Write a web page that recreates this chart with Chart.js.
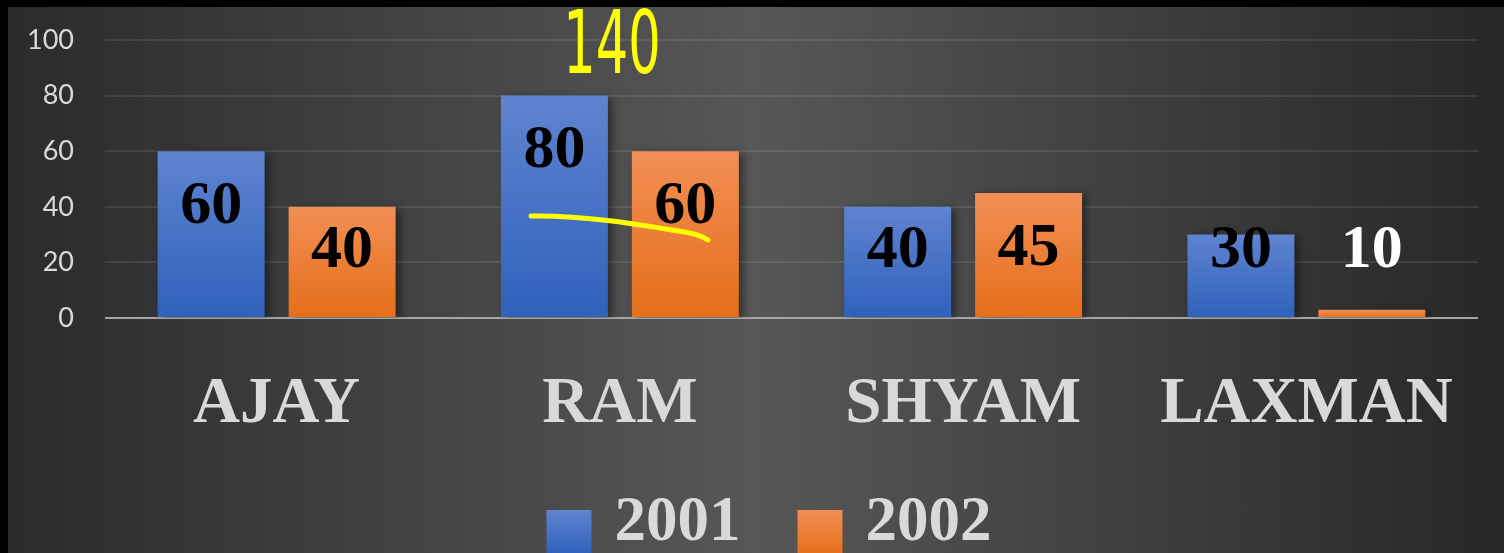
<!DOCTYPE html>
<html><head><meta charset="utf-8">
<script src="https://cdn.jsdelivr.net/npm/chart.js@4/dist/chart.umd.min.js"></script>
<style>
html,body{margin:0;padding:0;background:#000;width:1504px;height:553px;overflow:hidden}
#wrap{position:absolute;left:8px;top:7px;width:1496px;height:546px;background:linear-gradient(90deg,#2b2b2b 0%,#575757 50%,#272727 100%)}
canvas{display:block}
</style></head><body>
<div id="wrap"><canvas id="c" width="1496" height="546"></canvas></div>
<script>
const categories = ['AJAY', 'RAM', 'SHYAM', 'LAXMAN'];
const seriesNames = ['2001', '2002'];
const values2001 = [60, 80, 40, 30];
const values2002 = [40, 60, 45, 3];
const labels2001 = ['60', '80', '40', '30'];
const labels2002 = ['40', '60', '45', '10'];
const yTicks = [0, 20, 40, 60, 80, 100];

const gradTop = ['#5f84d0', '#f28f55'];
const gradBottom = ['#2f61bb', '#e56e19'];
const valueLabels = [labels2001, labels2002];

function barFill(i) {
  return c => {
    const chart = c.chart;
    const ys = chart.scales && chart.scales.y;
    if (!chart.chartArea || !ys || c.raw === undefined) return gradBottom[i];
    const top = ys.getPixelForValue(c.raw);
    const base = ys.getPixelForValue(0);
    const g = chart.ctx.createLinearGradient(0, top, 0, base);
    g.addColorStop(0, gradTop[i]);
    g.addColorStop(1, gradBottom[i]);
    return g;
  };
}

const barStyle = {
  id: 'barStyle',
  beforeDatasetsDraw(chart) {
    const ctx = chart.ctx;
    ctx.save();
    ctx.shadowColor = 'rgba(0,0,0,0.45)';
    ctx.shadowBlur = 8;
    ctx.shadowOffsetX = 4;
    ctx.shadowOffsetY = 2;
  },
  afterDatasetsDraw(chart) {
    const ctx = chart.ctx;
    ctx.restore();
    const ys = chart.scales.y;
    ctx.save();
    ctx.font = 'bold 62px "Liberation Serif"';
    ctx.textAlign = 'center';
    ctx.textBaseline = 'middle';
    chart.data.datasets.forEach((ds, i) => {
      chart.getDatasetMeta(i).data.forEach((el, j) => {
        const v = ds.data[j];
        const lv = Math.max(v - 19, 25.2);
        ctx.fillStyle = lv <= v ? '#000000' : '#ffffff';
        ctx.fillText(valueLabels[i][j], el.x, ys.getPixelForValue(lv) + 3);
      });
    });
    ctx.restore();
  },
  afterDraw(chart) {
    const ctx = chart.ctx;
    ctx.save();
    // legend
    ctx.font = 'bold 63px "Liberation Serif"';
    ctx.textBaseline = 'middle';
    ctx.textAlign = 'left';
    const box = 45, gapT = 23, gapI = 57;
    const widths = seriesNames.map(s => ctx.measureText(s).width);
    const total = widths.reduce((a, w) => a + box + gapT + w, 0) + gapI * (seriesNames.length - 1);
    let x = 761 - total / 2;
    seriesNames.forEach((s, i) => {
      const g = ctx.createLinearGradient(0, 503, 0, 548);
      g.addColorStop(0, gradTop[i]);
      g.addColorStop(1, gradBottom[i]);
      ctx.fillStyle = g;
      ctx.fillRect(x, 503, box, box);
      ctx.fillStyle = '#d9d9d9';
      ctx.fillText(s, x + box + gapT, 517);
      x += box + gapT + widths[i] + gapI;
    });
    // handwritten annotations
    ctx.fillStyle = '#ffff00';
    ctx.font = '88px "DejaVu Sans"';
    ctx.textAlign = 'center';
    ctx.textBaseline = 'alphabetic';
    ctx.translate(604, 66);
    ctx.scale(0.58, 1);
    ctx.fillText('140', 0, 0);
    ctx.setTransform(1, 0, 0, 1, 0, 0);
    ctx.strokeStyle = '#ffff00';
    ctx.lineWidth = 5;
    ctx.lineCap = 'round';
    ctx.beginPath();
    ctx.moveTo(523, 209);
    ctx.bezierCurveTo(580, 208, 640, 219, 682, 226);
    ctx.quadraticCurveTo(692, 228, 700, 233);
    ctx.stroke();
    ctx.restore();
  }
};

new Chart(document.getElementById('c'), {
  type: 'bar',
  data: {
    labels: categories,
    datasets: [
      { label: seriesNames[0], data: values2001, backgroundColor: barFill(0) },
      { label: seriesNames[1], data: values2002, backgroundColor: barFill(1) }
    ]
  },
  options: {
    responsive: false,
    animation: false,
    devicePixelRatio: 1,
    barPercentage: 0.817,
    categoryPercentage: 0.763,
    layout: { padding: { top: 33, right: 26, left: 0, bottom: 0 } },
    plugins: { legend: { display: false }, tooltip: { enabled: false } },
    scales: {
      x: {
        grid: { display: false },
        border: { display: false },
        ticks: {
          color: '#d9d9d9',
          font: { family: '"Liberation Serif"', size: 65, weight: 'bold' },
          padding: 40,
          maxRotation: 0,
          autoSkip: false
        },
        afterFit(s) { s.height = 235; }
      },
      y: {
        min: 0,
        max: 100,
        border: { display: false },
        grid: {
          drawTicks: true,
          tickLength: 31,
          tickColor: 'rgba(0,0,0,0)',
          lineWidth: 2,
          color: c => (c.tick && c.tick.value === 0) ? '#a6a6a6' : 'rgba(255,255,255,0.09)'
        },
        ticks: {
          color: '#d9d9d9',
          font: { family: 'Lato', size: 27 },
          padding: 0
        },
        afterBuildTicks(s) { s.ticks = yTicks.map(v => ({ value: v })); },
        afterFit(s) { s.width = 97; }
      }
    }
  },
  plugins: [barStyle]
});
</script>
</body></html>
